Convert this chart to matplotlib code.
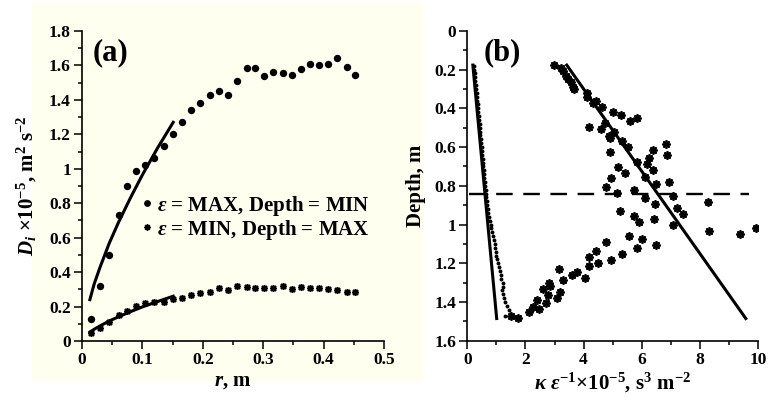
import matplotlib
matplotlib.use("Agg")
import matplotlib.pyplot as plt
from matplotlib.patches import Rectangle
from matplotlib.ticker import MultipleLocator, FuncFormatter

plt.rcParams['font.family'] = ['Liberation Serif', 'DejaVu Serif']
plt.rcParams['font.weight'] = 'bold'
plt.rcParams['axes.labelweight'] = 'bold'
plt.rcParams['mathtext.fontset'] = 'custom'
plt.rcParams['mathtext.rm'] = 'Liberation Serif:bold'
plt.rcParams['mathtext.it'] = 'Liberation Serif:italic:bold'
plt.rcParams['mathtext.bf'] = 'Liberation Serif:bold'

# (a) structure function vs separation
r = [0.015, 0.030, 0.045, 0.061, 0.075, 0.090, 0.105, 0.120, 0.135, 0.151,
     0.166, 0.181, 0.196, 0.212, 0.227, 0.242, 0.257, 0.273, 0.287, 0.302,
     0.317, 0.332, 0.348, 0.363, 0.377, 0.392, 0.407, 0.423, 0.438, 0.452]
d_max = [0.13, 0.32, 0.50, 0.73, 0.90, 0.99, 1.02, 1.06, 1.13, 1.20,
         1.27, 1.34, 1.38, 1.43, 1.45, 1.43, 1.51, 1.585, 1.585, 1.537,
         1.564, 1.556, 1.545, 1.58, 1.61, 1.60, 1.61, 1.645, 1.59, 1.545]
d_min = [0.045, 0.074, 0.112, 0.151, 0.176, 0.203, 0.219, 0.228, 0.228, 0.244,
         0.252, 0.267, 0.279, 0.283, 0.306, 0.296, 0.319, 0.312, 0.310, 0.306,
         0.310, 0.319, 0.304, 0.316, 0.308, 0.310, 0.304, 0.296, 0.283, 0.287]
fit_r = [0.013, 0.02, 0.03, 0.045, 0.06, 0.08, 0.10, 0.125, 0.151]
fit_max = [0.24, 0.33, 0.43, 0.567, 0.686, 0.83, 0.965, 1.12, 1.27]
fit_min = [0.051, 0.068, 0.088, 0.116, 0.140, 0.170, 0.198, 0.229, 0.26]

# (b) profiles vs depth
dot_depth = [0.18, 0.20, 0.22, 0.24, 0.26, 0.28, 0.30, 0.32, 0.34, 0.36,
             0.38, 0.40, 0.42, 0.44, 0.46, 0.48, 0.50, 0.52, 0.54, 0.56,
             0.58, 0.60, 0.62, 0.64, 0.66, 0.68, 0.70, 0.72, 0.74, 0.76,
             0.78, 0.80, 0.82, 0.84, 0.86, 0.88, 0.90, 0.92, 0.94, 0.96,
             0.98, 1.00, 1.02, 1.04, 1.06, 1.08, 1.10, 1.12, 1.14, 1.16,
             1.18, 1.20, 1.22, 1.24, 1.26, 1.28, 1.30, 1.32, 1.34, 1.36,
             1.38, 1.40, 1.42, 1.44, 1.46, 1.47]
dot_k = [0.23, 0.24, 0.25, 0.27, 0.28, 0.29, 0.30, 0.32, 0.33, 0.34,
         0.35, 0.37, 0.38, 0.39, 0.40, 0.42, 0.43, 0.44, 0.45, 0.46,
         0.48, 0.49, 0.50, 0.52, 0.53, 0.54, 0.55, 0.57, 0.58, 0.59,
         0.60, 0.62, 0.63, 0.64, 0.65, 0.67, 0.69, 0.70, 0.72, 0.74,
         0.77, 0.80, 0.83, 0.86, 0.89, 0.92, 0.94, 0.96, 0.98, 0.99,
         1.02, 1.06, 1.08, 1.12, 1.15, 1.17, 1.21, 1.23, 1.20, 1.22,
         1.26, 1.31, 1.36, 1.42, 1.48, 1.30]
star_k = [2.99, 3.21, 3.28, 3.38, 3.47, 3.56, 3.65, 3.67,
          4.11, 4.13, 4.43, 4.34, 4.64,
          5.00, 5.28, 5.60, 5.83,
          4.19, 4.60, 4.74, 4.89, 4.91, 5.06,
          5.31, 5.54, 4.91, 5.83,
          6.40, 6.82, 6.86, 6.25, 6.19,
          5.17, 5.44, 6.40, 6.11, 4.93,
          6.49, 6.93, 4.77, 5.16, 5.74,
          6.12, 7.09, 6.46, 7.20, 7.43, 8.29,
          5.25, 5.74, 5.92, 6.42, 7.09, 8.31, 9.38, 9.93,
          5.57, 6.00, 4.77, 6.49, 5.83, 4.43,
          4.19, 4.19, 4.51, 4.94, 5.31,
          3.14, 3.29, 2.81, 2.85, 2.59, 2.79, 3.19, 3.08,
          2.70, 2.39, 2.48, 2.27, 2.13,
          3.61, 3.76, 4.06, 1.75, 1.50]
star_depth = [0.177, 0.194, 0.206, 0.234, 0.251, 0.263, 0.29, 0.30,
              0.32, 0.34, 0.36, 0.375, 0.392,
              0.418, 0.435, 0.465, 0.449,
              0.495, 0.509, 0.475, 0.543, 0.555, 0.521,
              0.569, 0.602, 0.628, 0.676,
              0.616, 0.586, 0.643, 0.659, 0.690,
              0.705, 0.733, 0.719, 0.753, 0.762,
              0.793, 0.779, 0.808, 0.836, 0.822,
              0.865, 0.853, 0.896, 0.912, 0.943, 0.882,
              0.929, 0.956, 0.989, 0.973, 1.003, 1.034, 1.049, 1.020,
              1.060, 1.077, 1.092, 1.106, 1.12, 1.135,
              1.166, 1.214, 1.199, 1.183, 1.152,
              1.228, 1.287, 1.30, 1.318, 1.333, 1.362, 1.347, 1.378,
              1.407, 1.390, 1.438, 1.424, 1.453,
              1.261, 1.244, 1.274, 1.483, 1.470]
line1_k = [0.19, 1.01]
line2_k = [3.42, 9.58]
line_depth = [0.177, 1.485]
dash_k = [0.05, 9.7]
dash_depth = 0.84

fig = plt.figure(figsize=(7.68, 4.0), dpi=100)
fig.patches.append(Rectangle((0.0417, 0.045), 0.509, 0.95, transform=fig.transFigure,
                             facecolor='#fffff0', edgecolor='none', zorder=-10))

fmt = FuncFormatter(lambda v, p: ('%g' % round(v, 3)))


def style(ax):
    for s in ['top', 'right']:
        ax.spines[s].set_visible(False)
    for s in ['left', 'bottom']:
        ax.spines[s].set_linewidth(1.2)
    ax.tick_params(which='major', direction='out', length=6, width=1.1, labelsize=12.5, pad=2)
    ax.tick_params(which='minor', direction='out', length=3, width=1.1)
    ax.xaxis.set_major_formatter(fmt)
    ax.yaxis.set_major_formatter(fmt)
    ax.patch.set_alpha(0)


def bold_ticks(ax):
    for t in ax.get_xticklabels() + ax.get_yticklabels():
        t.set_fontweight('bold')


ax1 = fig.add_axes([0.1068, 0.1475, 0.3932, 0.775])
style(ax1)
ax1.plot(r, d_max, 'o', color='black', ms=4.3, ls='none', label=r'$\varepsilon$ = MAX, Depth = MIN')
ax1.plot(r, d_min, marker=(8, 2, 0), color='black', ms=5, mew=1.1, ls='none',
         label=r'$\varepsilon$ = MIN, Depth = MAX')
ax1.plot(fit_r, fit_max, color='black', lw=2.2)
ax1.plot(fit_r, fit_min, color='black', lw=2.2)
ax1.set_xlim(0, 0.5)
ax1.set_ylim(0, 1.8)
ax1.xaxis.set_major_locator(MultipleLocator(0.1))
ax1.xaxis.set_minor_locator(MultipleLocator(0.05))
ax1.yaxis.set_major_locator(MultipleLocator(0.2))
ax1.yaxis.set_minor_locator(MultipleLocator(0.1))
ax1.set_xlabel(r'$r$, m', fontsize=15, labelpad=2)
ax1.set_ylabel(r'$D_i$ ×10$^{-5}$, m$^{2}$ s$^{-2}$', fontsize=15, labelpad=7)
ax1.text(0.036, 0.93, '(a)', transform=ax1.transAxes, fontsize=22, va='center', ha='left')
ax1.legend(loc='upper left', bbox_to_anchor=(0.2, 0.475), frameon=False, fontsize=15,
           handlelength=0.4, handletextpad=0.3, borderpad=0, labelspacing=0.0,
           borderaxespad=0, markerscale=0.9)
bold_ticks(ax1)

ax2 = fig.add_axes([0.6085, 0.148, 0.3785, 0.775])
style(ax2)
ax2.plot(dot_k, dot_depth, 'o', color='black', ms=1.8, ls='none')
ax2.plot(star_k, star_depth, marker=(8, 2, 0), color='black', ms=6, mew=1.3, ls='none')
ax2.plot(line1_k, line_depth, color='black', lw=2.2)
ax2.plot(line2_k, line_depth, color='black', lw=2.2)
ax2.plot(dash_k, [dash_depth, dash_depth], color='black', lw=1.7, dashes=(7, 4.5))
ax2.set_xlim(0, 10)
ax2.set_ylim(1.6, 0)
ax2.xaxis.set_major_locator(MultipleLocator(2))
ax2.xaxis.set_minor_locator(MultipleLocator(1))
ax2.yaxis.set_major_locator(MultipleLocator(0.2))
ax2.yaxis.set_minor_locator(MultipleLocator(0.1))
ax2.set_xlabel(r'$\kappa$ $\varepsilon^{-1}$×10$^{-5}$, s$^{3}$ m$^{-2}$', fontsize=15, labelpad=2)
ax2.set_ylabel('Depth, m', fontsize=15, labelpad=6)
ax2.text(0.055, 0.93, '(b)', transform=ax2.transAxes, fontsize=22, va='center', ha='left')
bold_ticks(ax2)

fig.savefig('out.png', dpi=100)
